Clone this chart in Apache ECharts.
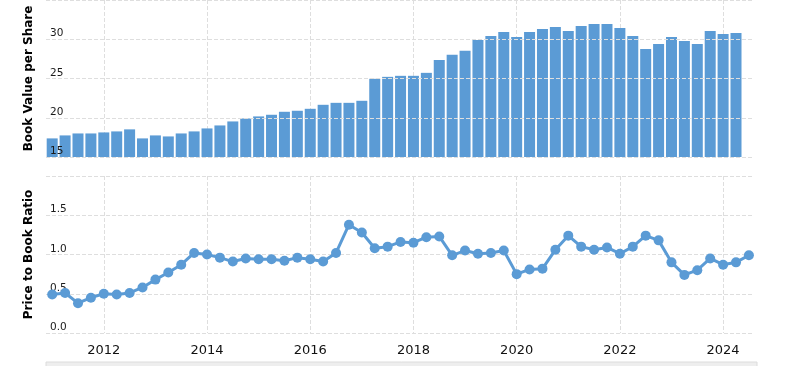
<!DOCTYPE html>
<html>
<head>
<meta charset="utf-8">
<script src="https://cdn.jsdelivr.net/npm/echarts@6/dist/echarts.min.js"></script>
<style>
  html, body { margin: 0; padding: 0; background: #fff; }
  #main { width: 790px; height: 366px; }
</style>
</head>
<body>
<div id="main"></div>
<script>
// quarter ends, Dec 2010 .. Jun 2024, as fractional years
var quarters = [];
for (var q = 0; q < 55; q++) quarters.push(2011 + q * 0.25);

var yearTicks = [2012, 2014, 2016, 2018, 2020, 2022, 2024];

// book value per share (last quarter not reported)
var bookValue = [
  17.37, 17.75, 18.0, 18.0, 18.13, 18.26, 18.52, 17.37, 17.75, 17.62,
  18.0, 18.26, 18.64, 19.02, 19.53, 19.91, 20.17, 20.38, 20.76, 20.89,
  21.14, 21.65, 21.9, 21.9, 22.16, 24.96, 25.21, 25.34, 25.34, 25.72,
  27.37, 28.01, 28.52, 29.91, 30.42, 30.93, 30.3, 30.93, 31.31, 31.57,
  31.06, 31.69, 31.95, 31.95, 31.44, 30.42, 28.77, 29.41, 30.3, 29.79,
  29.41, 31.06, 30.68, 30.8
];

// price to book ratio
var pbRatio = [
  0.49, 0.51, 0.38, 0.45, 0.50, 0.49, 0.51, 0.58, 0.68, 0.77,
  0.87, 1.02, 1.00, 0.96, 0.91, 0.95, 0.94, 0.94, 0.92, 0.96,
  0.94, 0.91, 1.02, 1.38, 1.28, 1.08, 1.10, 1.16, 1.15, 1.22,
  1.23, 0.99, 1.05, 1.01, 1.02, 1.05, 0.75, 0.81, 0.82, 1.06,
  1.24, 1.10, 1.06, 1.09, 1.01, 1.10, 1.24, 1.18, 0.90, 0.74,
  0.80, 0.95, 0.87, 0.90, 0.99
];

var blue = '#5b9bd5';
var gridLine = { show: true, lineStyle: { type: 'dashed', color: '#dedede', width: 1 } };
var font = 'DejaVu Sans, Verdana, sans-serif';

var myChart = echarts.init(document.getElementById('main'));

function xAxisFor(idx, labels) {
  return {
    type: 'value',
    gridIndex: idx,
    min: 2010.88,
    max: 2024.56,
    axisLine: { show: false },
    axisTick: { show: false, customValues: yearTicks },
    axisLabel: {
      show: labels,
      customValues: yearTicks,
      color: '#111',
      fontFamily: font,
      fontSize: 13,
      margin: 11,
      formatter: function (v) { return String(Math.round(v)); }
    },
    splitLine: gridLine
  };
}

function yLabel(fmt) {
  return {
    inside: true,
    margin: 4,
    verticalAlign: 'bottom',
    showMaxLabel: false,
    color: '#1a1a1a',
    fontFamily: font,
    fontSize: 10.5,
    formatter: fmt
  };
}

const option = {
  animation: false,
  grid: [
    { left: 46, right: 38, top: 0, height: 157 },
    { left: 46, right: 38, top: 176, height: 157 }
  ],
  xAxis: [xAxisFor(0, false), xAxisFor(1, true)],
  yAxis: [{
    type: 'value',
    gridIndex: 0,
    min: 15,
    max: 35,
    interval: 5,
    name: 'Book Value per Share',
    nameLocation: 'middle',
    nameRotate: 90,
    nameGap: 11,
    nameTextStyle: { fontFamily: font, fontWeight: 'bold', fontSize: 12, color: '#000' },
    axisLine: { show: false },
    axisTick: { show: false },
    axisLabel: yLabel(function (v) { return String(v); }),
    splitLine: gridLine,
    z: 5
  }, {
    type: 'value',
    gridIndex: 1,
    min: 0,
    max: 2,
    interval: 0.5,
    name: 'Price to Book Ratio',
    nameLocation: 'middle',
    nameRotate: 90,
    nameGap: 11,
    nameTextStyle: { fontFamily: font, fontWeight: 'bold', fontSize: 12, color: '#000' },
    axisLine: { show: false },
    axisTick: { show: false },
    axisLabel: yLabel(function (v) { return v.toFixed(1); }),
    splitLine: gridLine
  }],
  series: [{
    name: 'Book Value per Share',
    type: 'bar',
    xAxisIndex: 0,
    yAxisIndex: 0,
    barWidth: 11,
    clip: true,
    itemStyle: { color: blue },
    data: bookValue.map(function (v, i) { return [quarters[i], v]; })
  }, {
    name: 'Price to Book Ratio',
    type: 'line',
    xAxisIndex: 1,
    yAxisIndex: 1,
    symbol: 'circle',
    symbolSize: 10,
    showAllSymbol: true,
    lineStyle: { color: blue, width: 3 },
    itemStyle: { color: blue },
    data: pbRatio.map(function (v, i) { return [quarters[i], v]; })
  }],
  graphic: [{
    type: 'rect',
    shape: { x: 46, y: 362, width: 711, height: 10 },
    style: { fill: '#eeeeee', stroke: '#dcdcdc', lineWidth: 1 },
    silent: true
  }]
};

myChart.setOption(option);
window.addEventListener('resize', () => {
  myChart.resize();
});
</script>
</body>
</html>
